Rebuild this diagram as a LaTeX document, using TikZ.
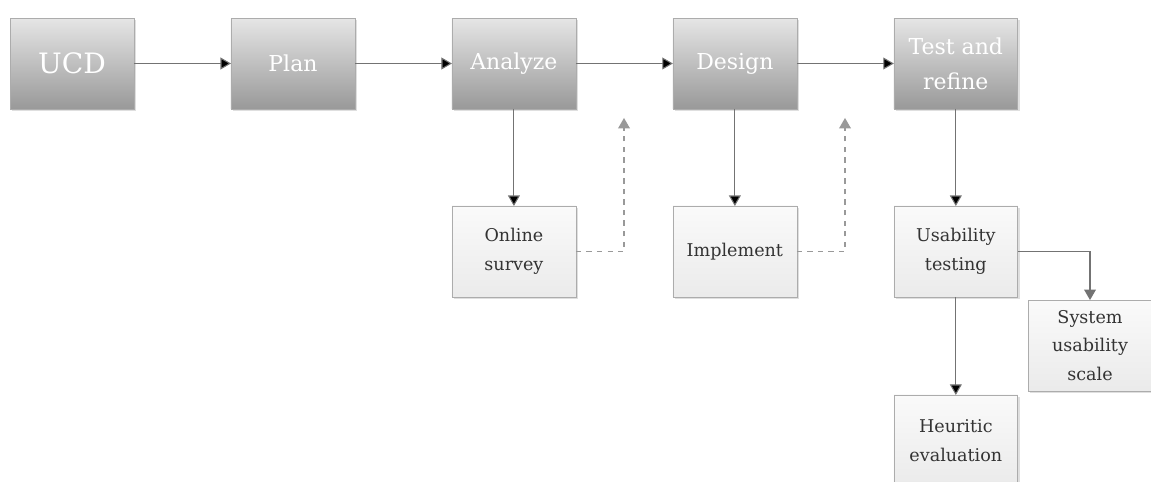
\documentclass[tikz,border=0pt]{standalone}
\usepackage{fontspec}
\setmainfont{DejaVu Serif}
\usetikzlibrary{shadows}
\usetikzlibrary{positioning}
\usetikzlibrary{arrows}

\begin{document}
\begin{tikzpicture}[x=0.02cm,y=-0.02cm,>=triangle 60,thin,node distance=1.94cm,
	phase/.style={rectangle,draw=gray!65,outer sep=0pt,minimum width=2.48cm,minimum height=1.82cm,
		top color=gray!20,bottom color=gray!80,text=white,align=center,
		font=\fontsize{12.5}{20}\selectfont,
		drop shadow={shadow xshift=1pt,shadow yshift=-1pt,opacity=0.25}},
	task/.style={rectangle,draw=gray!65,outer sep=0pt,minimum width=2.48cm,minimum height=1.82cm,
		top color=gray!4,bottom color=gray!16,text=black!80,align=center,
		font=\fontsize{10}{16.4}\selectfont,
		drop shadow={shadow xshift=1pt,shadow yshift=-1pt,opacity=0.25}},
	flow/.style={->,draw=black!55,line width=0.6pt},
	back/.style={->,draw=black!40,line width=0.6pt,dashed}]
	
	\useasboundingbox (0,0) rectangle (1151,482);
	
	% main phases
	\node[phase,font=\fontsize{16}{20}\selectfont] (ucd) at (72,63.5) {UCD};
	\node[phase] (plan) [right=of ucd] {Plan};
	\node[phase] (analyze) [right=of plan] {Analyze};
	\node[phase] (design) [right=of analyze] {Design};
	\node[phase] (test) [right=of design] {Test and\\refine};
	
	% activities
	\node[task] (survey) [below=of analyze] {Online\\survey};
	\node[task] (implement) [below=of design] {Implement};
	\node[task] (usability) [below=of test] {Usability\\testing};
	\node[task] (sus) at (1090,345.5) {System\\usability\\scale};
	\node[task] (heuristic) [below=1.96cm of usability] {Heuritic\\evaluation};
	
	\coordinate (back1) at (624,118);
	\coordinate (back2) at (845,118);
	
	\path[flow]
	(ucd) edge (plan)
	(plan) edge (analyze)
	(analyze) edge (design)
	(design) edge (test)
	(analyze) edge (survey)
	(design) edge (implement)
	(test) edge (usability)
	(usability) edge (heuristic);
	\draw[flow] (usability.east) -| (sus.north);
	
	\draw[back] (survey.east) -| (back1);
	\draw[back] (implement.east) -| (back2);
\end{tikzpicture}
\end{document}
